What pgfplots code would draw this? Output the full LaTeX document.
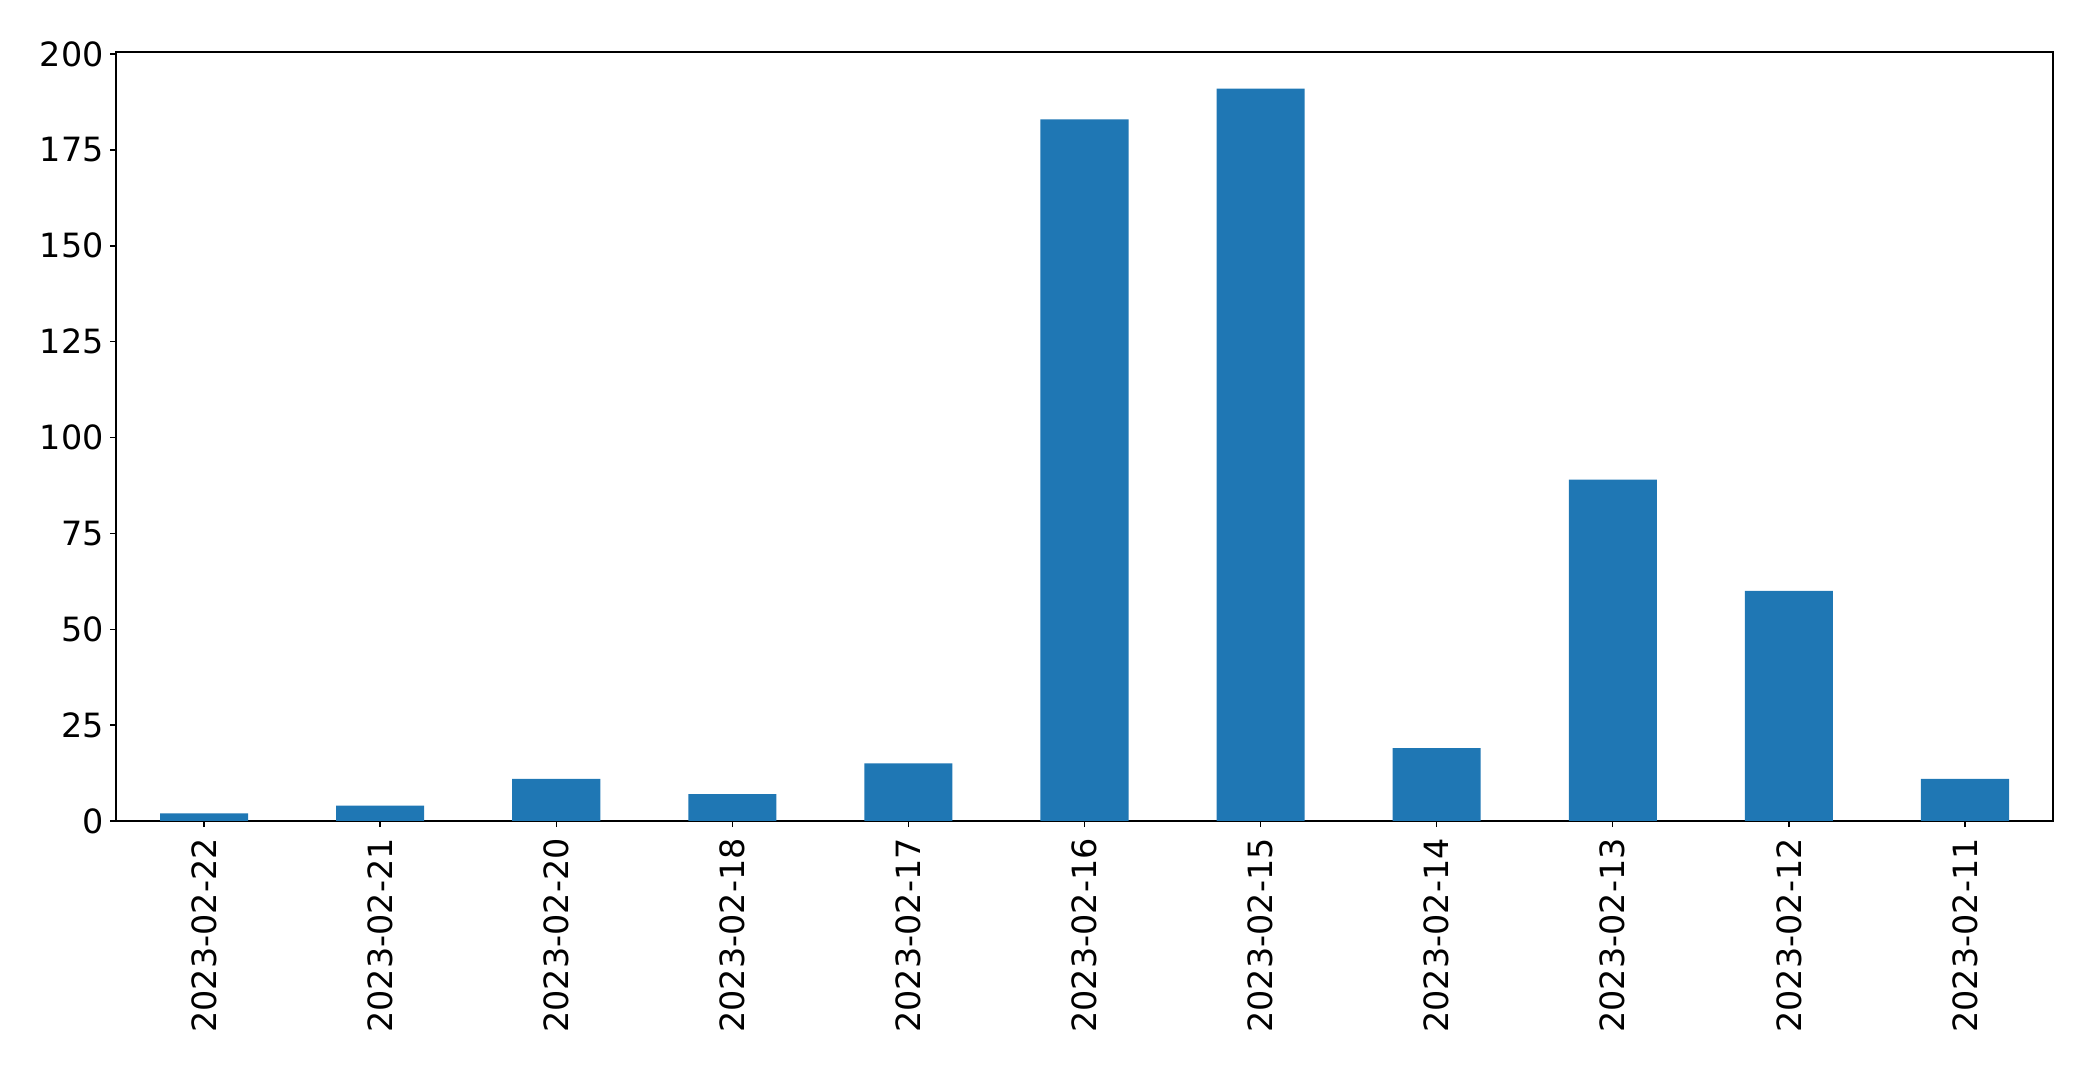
\documentclass[border=0pt]{standalone}
\usepackage{pgfplots}
\pgfplotsset{compat=1.18}
\usepackage{fontspec}
\setmainfont{DejaVu Sans}
\definecolor{mplblue}{HTML}{1F77B4}
\begin{document}
\begin{tikzpicture}
\useasboundingbox (0,0) rectangle (1046.5bp,536.5bp);
\begin{axis}[
  at={(58bp,126bp)}, anchor=south west,
  scale only axis,
  width=968.5bp, height=384.5bp,
  xmin=-0.5, xmax=10.5,
  ymin=0, ymax=200.55,
  ytick={0,25,50,75,100,125,150,175,200},
  xtick={0,...,10},
  xticklabels={2023-02-22,2023-02-21,2023-02-20,2023-02-18,2023-02-17,2023-02-16,2023-02-15,2023-02-14,2023-02-13,2023-02-12,2023-02-11},
  tick align=outside,
  major tick length=3bp,
  tick style={black, line width=0.7bp},
  axis line style={line width=0.7bp},
  xtick pos=bottom, ytick pos=left,
  /pgf/number format/assume math mode=true,
  tick label style={font=\fontsize{16.7bp}{19bp}\selectfont},
  yticklabel style={inner sep=3bp},
  xticklabel style={rotate=90, anchor=east, inner sep=5.5bp},
]
\addplot[ybar, bar width=0.5, fill=mplblue, draw=none] coordinates {
(0,2) (1,4) (2,11) (3,7) (4,15) (5,183) (6,191) (7,19) (8,89) (9,60) (10,11)
};
\end{axis}
\end{tikzpicture}
\end{document}
